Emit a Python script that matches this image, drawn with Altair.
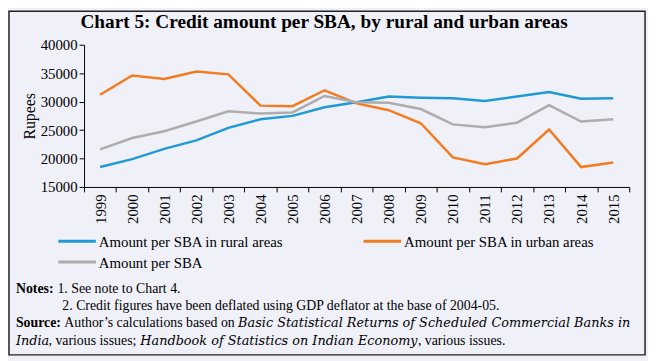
import altair as alt
import pandas as pd

years = [str(y) for y in range(1999, 2016)]
rural = [18500, 19900, 21700, 23200, 25400, 26900, 27500, 29000, 29900, 30900,
         30700, 30600, 30100, 30900, 31700, 30500, 30600]
urban = [31200, 34600, 34000, 35300, 34800, 29300, 29200, 32000, 29700, 28500,
         26200, 20200, 19000, 20000, 25100, 18500, 19300]
overall = [21600, 23600, 24800, 26500, 28300, 27900, 28100, 31000, 29900, 29800,
           28700, 26000, 25500, 26300, 29400, 26500, 26900]

series_names = ["Amount per SBA in rural areas", "Amount per SBA in urban areas", "Amount per SBA"]
series_colors = ["#1F9AD6", "#F47B20", "#ADADAD"]
y_ticks = [15000, 20000, 25000, 30000, 35000, 40000]

title_text = "Chart 5: Credit amount per SBA, by rural and urban areas"

rows = []
for name, vals in zip(series_names, [rural, urban, overall]):
    for yr, v in zip(years, vals):
        rows.append({"year": yr, "series": name, "value": v})
df = pd.DataFrame(rows)

SERIF = "Liberation Serif"
ITAL = "DejaVu Serif"

lines = alt.Chart(df).mark_line(strokeWidth=2.5).encode(
    x=alt.X("year:O",
            scale=alt.Scale(type="band", paddingInner=0, paddingOuter=0),
            axis=alt.Axis(title=None, labelAngle=270, tickBand="extent",
                          labelFont=SERIF, labelFontSize=15, labelColor="black",
                          domainColor="black", tickColor="black", tickSize=5,
                          labelPadding=2)),
    y=alt.Y("value:Q",
            scale=alt.Scale(domain=[15000, 40000], nice=False, zero=False),
            axis=alt.Axis(title="Rupees", values=y_ticks, grid=False,
                          labelFont=SERIF, labelFontSize=15, labelColor="black",
                          titleFont=SERIF, titleFontSize=16, titleFontWeight="normal",
                          titleColor="black", titlePadding=3, format="d",
                          domainColor="black", tickColor="black", tickSize=5,
                          labelPadding=2)),
    color=alt.Color("series:N",
                    scale=alt.Scale(domain=series_names, range=series_colors),
                    legend=None),
)

one = pd.DataFrame({"k": [0]})


def txt(s, x, y, size=14, weight="normal", style="normal", font=SERIF, align="left",
        baseline="alphabetic"):
    return alt.Chart(one).mark_text(
        text=s, font=font, fontSize=size, fontWeight=weight, fontStyle=style,
        align=align, baseline=baseline, color="black"
    ).encode(x=alt.value(x), y=alt.value(y))


def legend_item(name, color, x0, y0):
    sym = alt.Chart(one).mark_rule(stroke=color, strokeWidth=3).encode(
        x=alt.value(x0), x2=alt.value(x0 + 38), y=alt.value(y0)
    )
    lab = txt(name, x0 + 41, y0 + 1, size=15, baseline="middle")
    return [sym, lab]


border = alt.Chart(one).mark_rect(fill=None, stroke="#222222", strokeWidth=1.5).encode(
    x=alt.value(-76), x2=alt.value(568), y=alt.value(-34), y2=alt.value(314)
)

legend_pos = [(-26, 199), (283, 199), (-26, 220)]
legend_layers = []
for name, color, (lx, ly) in zip(series_names, series_colors, legend_pos):
    legend_layers += legend_item(name, color, lx, ly)

layers = [
    border,
    lines,
    *legend_layers,
    txt(title_text, 243, -17, size=19.5, weight="bold", align="center"),
    txt("Notes:", -69, 251, weight="bold"),
    txt("1. See note to Chart 4.", -27, 251),
    txt("2. Credit figures have been deflated using GDP deflator at the base of 2004-05.", -22, 269),
    txt("Source:", -69, 286, weight="bold"),
    txt("Author\u2019s calculations based on", -20, 286),
    txt("Basic Statistical Returns of Scheduled Commercial Banks in", 156, 286, style="italic",
        font=ITAL, size=13),
    txt("India", -69, 304, style="italic", font=ITAL, size=13),
    txt(", various issues;", -36, 304),
    txt("Handbook of Statistics on Indian Economy", 57, 304, style="italic", font=ITAL, size=13),
    txt(", various issues.", 338, 304),
]

chart = alt.layer(*layers).properties(
    width=552, height=144,
    autosize=alt.AutoSizeParams(type="none"),
    padding={"left": 77, "top": 35, "right": 19, "bottom": 174},
    background="#EFF0F8",
).configure_view(stroke=None)

chart.save("out.html", embed_options={"renderer": "svg", "actions": False})
